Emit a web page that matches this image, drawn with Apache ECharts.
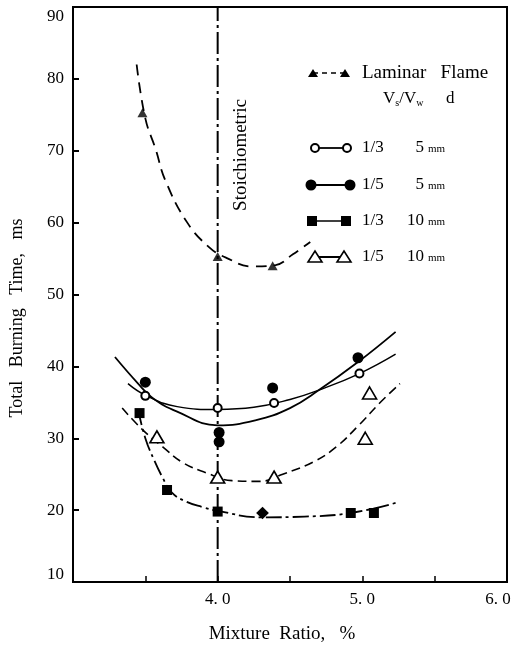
<html>
<head>
<meta http-equiv="Content-Type" content="text/html; charset=UTF-8">
<script type="text/javascript" src="https://cdn.jsdelivr.net/npm/echarts@6/dist/echarts.min.js"></script>
<style>html,body{margin:0;padding:0;background:#fff;}</style>
</head>
<body>
<div id="chart" style="width:515px;height:647px;"></div>
<script type="text/javascript">
// measured points  [mixture ratio %, burning time ms]
var laminarPts = [[3.48,75.3],[4.0,55.3],[4.38,54.0]];
var open13_5  = [[3.50,35.9],[4.0,34.2],[4.39,34.9],[4.98,39.0]];
var fill15_5  = [[3.50,37.8],[4.01,30.8],[4.01,29.5],[4.38,37.0],[4.97,41.2]];
var sq13_10   = [[3.46,33.5],[3.65,22.8],[4.0,19.8],[4.31,19.6],[4.92,19.6],[5.08,19.6]];
var tri15_10  = [[3.58,30.2],[4.0,24.6],[4.39,24.6],[5.02,30.0],[5.05,36.3]];

// hand drawn fair curves
var laminarFit = [[3.44,82],[3.50,74.5],[3.57,70.3],[3.64,65.8],[3.79,60],[3.94,56.6],[4.06,55.1],[4.24,53.9],[4.40,54.1],[4.52,55.6],[4.64,57.3]];
var open13_5Fit = [[3.38,37.6],[3.5,36.0],[3.72,34.4],[4.0,34.0],[4.25,34.3],[4.5,35.4],[4.7,36.7],[4.98,39.0],[5.23,41.7]];
var fill15_5Fit = [[3.29,41.3],[3.45,37.6],[3.55,35.6],[3.72,33.7],[4.0,31.8],[4.26,32.5],[4.5,34.2],[4.7,36.7],[4.97,40.6],[5.23,44.8]];
var sq13_10Fit = [[3.45,34.0],[3.50,30.0],[3.56,27],[3.62,24.5],[3.68,22.5],[3.78,21.2],[3.9,20.4],[4.0,19.9],[4.3,19.0],[4.6,19.1],[4.92,19.6],[5.23,21.0]];
var tri15_10Fit = [[3.34,34.2],[3.48,31.2],[3.62,28.8],[3.76,26.6],[3.92,25.2],[4.1,24.1],[4.29,24.0],[4.45,25.0],[4.66,26.7],[4.82,28.8],[4.98,31.9],[5.12,34.9],[5.26,37.6]];

var stoichX = 4.0;
var xLabels = [4, 5, 6];
var legendRatio = ['1/3', '1/5', '1/3', '1/5'];
var legendDia = ['5', '5', '10', '10'];

var serif = "'Liberation Serif','DejaVu Serif',serif";
var myChart = echarts.init(document.getElementById('chart'));

function curve(data, width, type){
  return {type:'line', data:data, smooth:0.45, symbol:'none', silent:true, z:2,
    lineStyle:{color:'#000', width:width, type:type}};
}

var rowY = [148, 185, 221, 257];
var legendText = [];
for (var i = 0; i < 4; i++) {
  legendText.push({type:'text', x:362, y:rowY[i], style:{text:legendRatio[i], fill:'#000', font:'17px ' + serif, verticalAlign:'middle'}});
  legendText.push({type:'text', x:424, y:rowY[i], style:{text:legendDia[i], fill:'#000', font:'17px ' + serif, align:'right', verticalAlign:'middle'}});
  legendText.push({type:'text', x:428, y:rowY[i] + 1, style:{text:'mm', fill:'#000', font:'11px ' + serif, verticalAlign:'middle'}});
}

var sqData = sq13_10.map(function(p, i){
  return i === 3 ? {value:p, symbolRotate:45, symbolSize:9} : p;
});

myChart.setOption({
  animation:false,
  grid:{left:73, right:8, top:7, bottom:65, show:true, borderColor:'#000', borderWidth:2, outerBoundsMode:'none', containLabel:false},
  xAxis:{
    type:'value', min:3, max:6, interval:0.5,
    axisLine:{lineStyle:{color:'#000', width:2}},
    axisTick:{inside:true, length:6, lineStyle:{color:'#000', width:1.5}},
    splitLine:{show:false},
    axisLabel:{color:'#000', fontFamily:serif, fontSize:17, margin:9,
      formatter:function(v){
        if (xLabels.indexOf(v) < 0) return '';
        var s = v.toFixed(1).replace('.', '. ');
        return v === 6 ? '{r|' + s + '}' : s;
      },
      rich:{r:{fontFamily:serif, fontSize:17, color:'#000', padding:[0,18,0,0]}}
    },
    name:'Mixture  Ratio,   %', nameLocation:'middle', nameGap:43,
    nameTextStyle:{color:'#000', fontFamily:serif, fontSize:19, padding:[0,16,0,0]}
  },
  yAxis:{
    type:'value', min:10, max:90, interval:10,
    axisLine:{lineStyle:{color:'#000', width:2}},
    axisTick:{inside:true, length:6, lineStyle:{color:'#000', width:2}},
    splitLine:{show:false},
    axisLabel:{color:'#000', fontFamily:serif, fontSize:17, margin:9,
      formatter:function(v){
        if (v === 90) return '{t|90}';
        if (v === 10) return '{b|10}';
        return v;
      },
      rich:{
        t:{fontFamily:serif, fontSize:17, color:'#000', padding:[20,0,0,0]},
        b:{fontFamily:serif, fontSize:17, color:'#000', padding:[0,0,14,0]}
      }
    }
  },
  graphic:[
    {type:'text', x:17, y:318, rotation:Math.PI/2,
      style:{text:'Total   Burning   Time,   ms', fill:'#000', font:'18px ' + serif, align:'center', verticalAlign:'middle'}},
    {type:'text', x:241, y:155, rotation:Math.PI/2,
      style:{text:'Stoichiometric', fill:'#000', font:'19px ' + serif, align:'center', verticalAlign:'middle'}},
    // legend
    {type:'line', shape:{x1:313, y1:73, x2:345, y2:73}, style:{stroke:'#000', lineWidth:1.5, lineDash:[5,4]}},
    {type:'polygon', shape:{points:[[308,77],[318,77],[313,69]]}, style:{fill:'#000'}},
    {type:'polygon', shape:{points:[[340,77],[350,77],[345,69]]}, style:{fill:'#000'}},
    {type:'text', x:362, y:73, style:{text:'Laminar   Flame', fill:'#000', font:'19px ' + serif, verticalAlign:'middle'}},
    {type:'text', x:383, y:99, style:{
      text:'{n|V}{s|s}{n|/V}{s|w}', fill:'#000', verticalAlign:'middle',
      rich:{n:{fontFamily:serif, fontSize:17, fill:'#000'}, s:{fontFamily:serif, fontSize:10, fill:'#000', padding:[8,0,0,0]}}}},
    {type:'text', x:446, y:99, style:{text:'d', fill:'#000', font:'17px ' + serif, verticalAlign:'middle'}},

    {type:'line', shape:{x1:315, y1:148, x2:347, y2:148}, style:{stroke:'#000', lineWidth:1.8}},
    {type:'circle', shape:{cx:315, cy:148, r:4}, style:{fill:'#fff', stroke:'#000', lineWidth:2}},
    {type:'circle', shape:{cx:347, cy:148, r:4}, style:{fill:'#fff', stroke:'#000', lineWidth:2}},

    {type:'line', shape:{x1:311, y1:185, x2:350, y2:185}, style:{stroke:'#000', lineWidth:2}},
    {type:'circle', shape:{cx:311, cy:185, r:5.5}, style:{fill:'#000'}},
    {type:'circle', shape:{cx:350, cy:185, r:5.5}, style:{fill:'#000'}},

    {type:'line', shape:{x1:312, y1:221, x2:346, y2:221}, style:{stroke:'#000', lineWidth:1.5}},
    {type:'rect', shape:{x:307, y:216, width:10, height:10}, style:{fill:'#000'}},
    {type:'rect', shape:{x:341, y:216, width:10, height:10}, style:{fill:'#000'}},

    {type:'line', shape:{x1:315, y1:257, x2:344, y2:257}, style:{stroke:'#000', lineWidth:2}},
    {type:'polygon', shape:{points:[[308,262],[322,262],[315,251]]}, style:{fill:'#fff', stroke:'#000', lineWidth:1.6}},
    {type:'polygon', shape:{points:[[337,262],[351,262],[344,251]]}, style:{fill:'#fff', stroke:'#000', lineWidth:1.6}}
  ].concat(legendText),
  series:[
    {type:'line', data:[[stoichX,10],[stoichX,90]], symbol:'none', silent:true, z:1,
      lineStyle:{color:'#000', width:2, type:[22,4,3,4]}},
    curve(laminarFit, 1.8, [11,7]),
    curve(open13_5Fit, 1.5, 'solid'),
    curve(fill15_5Fit, 1.8, 'solid'),
    curve(sq13_10Fit, 1.8, [16,4,3,4]),
    curve(tri15_10Fit, 1.6, [9,5]),
    {type:'scatter', data:laminarPts, symbol:'triangle', symbolSize:[10,9], z:5,
      itemStyle:{color:'#000'}},
    {type:'scatter', data:open13_5, symbol:'circle', symbolSize:8, z:5,
      itemStyle:{color:'#fff', borderColor:'#000', borderWidth:2, opacity:1}},
    {type:'scatter', data:fill15_5, symbol:'circle', symbolSize:11, z:5,
      itemStyle:{color:'#000', opacity:1}},
    {type:'scatter', data:sqData, symbol:'rect', symbolSize:10, z:5,
      itemStyle:{color:'#000', opacity:1}},
    {type:'scatter', data:tri15_10, symbol:'triangle', symbolSize:[14,12], z:5,
      itemStyle:{color:'#fff', borderColor:'#000', borderWidth:1.6, opacity:1}}
  ]
});
</script>
</body>
</html>
